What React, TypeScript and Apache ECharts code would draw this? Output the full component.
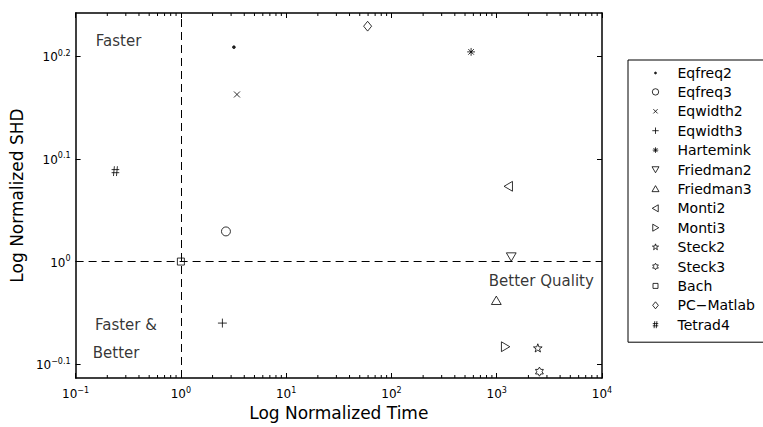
import React, { useEffect, useRef } from 'react';
import * as echarts from 'echarts';

const methods = ['Eqfreq2', 'Eqfreq3', 'Eqwidth2', 'Eqwidth3', 'Hartemink', 'Friedman2', 'Friedman3', 'Monti2', 'Monti3', 'Steck2', 'Steck3', 'Bach', 'PC−Matlab', 'Tetrad4'];
const timeValues = [3.19, 2.68, 3.41, 2.48, 571, 1374, 991, 1297, 1206, 2456, 2545, 1, 59.4, 0.239];
const shdValues = [1.618, 1.07, 1.455, 0.871, 1.601, 1.011, 0.916, 1.184, 0.826, 0.823, 0.781, 1, 1.696, 1.225];

const xRange = [0.1, 10000];
const yRange = [0.770, 1.747];
const yTickExponents = [-0.1, 0, 0.1, 0.2];
const xMinorDecades = [0.1, 1, 10, 100, 1000];
const xMinorMultipliers = [2, 3, 4, 5, 6, 7, 8, 9];

const annotationTexts = ['Faster', 'Faster &', 'Better', 'Better Quality'];
const annotationTime = [0.154, 0.151, 0.144, 832];
const annotationShd = [1.642, 0.868, 0.815, 0.958];

const FONT = 'DejaVu Sans';

function starPath(n: number, R: number, r: number) {
  let d = '';
  for (let k = 0; k < 2 * n; k++) {
    const ang = ((-90 + (k * 180) / n) * Math.PI) / 180;
    const rad = k % 2 ? r : R;
    d += (k ? 'L' : 'M') + (10 + rad * Math.cos(ang)).toFixed(2) + ' ' + (10 + rad * Math.sin(ang)).toFixed(2);
  }
  return d + 'Z';
}

const F = 'M0 0M20 20';
const markerPaths = [
  F + 'M11.9 10A1.9 1.9 0 1 1 8.1 10A1.9 1.9 0 1 1 11.9 10Z',
  F + 'M16.4 10A6.4 6.4 0 1 1 3.6 10A6.4 6.4 0 1 1 16.4 10Z',
  F + 'M5.7 5.7L14.3 14.3M14.3 5.7L5.7 14.3',
  F + 'M10 3.6L10 16.4M3.6 10L16.4 10',
  F + 'M10 4.4L10 15.6M4.4 10L15.6 10M6 6L14 14M14 6L6 14',
  F + 'M3 4.5L17 4.5L10 16.5Z',
  F + 'M10 3.5L17 15.5L3 15.5Z',
  F + 'M3.5 10L15.5 3L15.5 17Z',
  F + 'M4.5 3L16.5 10L4.5 17Z',
  F + starPath(5, 6.5, 2.6),
  F + starPath(6, 6.5, 3.75),
  F + 'M5 5L15 5L15 15L5 15Z',
  F + 'M10 3L15.7 10L10 17L4.3 10Z',
  F + 'M8.5 3L7.2 17M12.8 3L11.5 17M4.5 7.8L15.5 7.8M4.5 12.2L15.5 12.2',
];

const fmtExp = (e: number) => (e < 0 ? '−' : '') + String(Math.abs(e));

const rich = {
  b: { fontSize: 12, lineHeight: 14, fontFamily: FONT, color: '#000', verticalAlign: 'bottom' },
  s: { fontSize: 8, lineHeight: 8, fontFamily: FONT, color: '#000', verticalAlign: 'top' },
};

const yLogMin = Math.log10(yRange[0]);
const yLogMax = Math.log10(yRange[1]);

function buildOption() {
  const axisLine = { show: true, onZero: false, lineStyle: { color: '#000', width: 1.5 } };
  const markerSeries = methods.map((m, i) => ({
    type: 'scatter',
    name: m,
    data: [[timeValues[i], Math.log10(shdValues[i])]],
    symbol: 'path://' + markerPaths[i],
    symbolSize: 14,
    itemStyle: { color: i === 0 ? '#000' : 'none', borderColor: '#000', borderWidth: 1 },
    emphasis: { disabled: true },
    silent: true,
    z: 4,
  }));

  const minorData: number[][] = [];
  xMinorDecades.forEach((d) => xMinorMultipliers.forEach((m) => minorData.push([d * m, yLogMin])));

  return {
    animation: false,
    backgroundColor: '#fff',
    textStyle: { fontFamily: FONT, color: '#000' },
    grid: { left: 73, right: 161, top: 13, bottom: 49, containLabel: false },
    legend: {
      orient: 'vertical',
      left: 628,
      top: 60,
      padding: [6, 5, 10, 20],
      itemWidth: 10,
      itemHeight: 10,
      itemGap: 4.4,
      borderColor: '#000',
      borderWidth: 1,
      backgroundColor: '#fff',
      selectedMode: false,
      itemStyle: { borderWidth: 1 },
      textStyle: { fontSize: 14, lineHeight: 14, color: '#000', fontFamily: FONT, width: 83, padding: [0, 0, 0, 12] },
      data: methods,
    },
    xAxis: [
      {
        type: 'log',
        logBase: 10,
        min: xRange[0],
        max: xRange[1],
        splitNumber: 5,
        position: 'bottom',
        axisLine,
        axisTick: { show: true, inside: true, length: 5, lineStyle: { color: '#000', width: 1 } },
        axisLabel: {
          margin: 8,
          formatter: (v: number) => `{b|10}{s|${fmtExp(Math.round(Math.log10(v)))}}`,
          rich,
        },
        splitLine: { show: false },
        name: 'Log Normalized Time',
        nameLocation: 'middle',
        nameGap: 25,
        nameTextStyle: { fontSize: 17, color: '#000', fontFamily: FONT },
      },
      {
        type: 'log',
        logBase: 10,
        min: xRange[0],
        max: xRange[1],
        splitNumber: 5,
        position: 'top',
        axisLine,
        axisTick: { show: true, inside: true, length: 5, lineStyle: { color: '#000', width: 1 } },
        axisLabel: { show: false },
        splitLine: { show: false },
      },
    ],
    yAxis: [
      {
        type: 'value',
        min: yLogMin,
        max: yLogMax,
        position: 'left',
        axisLine,
        axisTick: { show: true, inside: true, length: 5, customValues: yTickExponents, lineStyle: { color: '#000', width: 1 } },
        axisLabel: {
          margin: 5,
          customValues: yTickExponents,
          formatter: (v: number) => `{b|10}{s|${fmtExp(Math.round(v * 10) / 10)}}`,
          rich,
        },
        splitLine: { show: false },
        name: 'Log Normalized SHD',
        nameLocation: 'middle',
        nameGap: 37,
        nameTextStyle: { fontSize: 17, color: '#000', fontFamily: FONT },
      },
      {
        type: 'value',
        min: yLogMin,
        max: yLogMax,
        position: 'right',
        axisLine,
        axisTick: { show: true, inside: true, length: 5, customValues: yTickExponents, lineStyle: { color: '#000', width: 1 } },
        axisLabel: { show: false },
        splitLine: { show: false },
      },
    ],
    series: [
      {
        type: 'scatter',
        name: 'guides',
        data: [],
        silent: true,
        markLine: {
          silent: true,
          symbol: ['none', 'none'],
          label: { show: false },
          lineStyle: { color: '#000', width: 1, type: [8, 5] },
          emphasis: { disabled: true },
          data: [{ xAxis: 1 }, { yAxis: 0 }],
        },
        z: 2,
      },
      {
        type: 'custom',
        name: 'minorTicks',
        data: minorData,
        encode: { x: 0, y: 1 },
        clip: false,
        silent: true,
        renderItem: (params: any, api: any) => {
          const x = api.value(0);
          const b = api.coord([x, yLogMin]);
          const t = api.coord([x, yLogMax]);
          const style = { stroke: '#000', lineWidth: 1 };
          return {
            type: 'group',
            children: [
              { type: 'line', shape: { x1: b[0], y1: b[1], x2: b[0], y2: b[1] - 3 }, style },
              { type: 'line', shape: { x1: t[0], y1: t[1], x2: t[0], y2: t[1] + 3 }, style },
            ],
          };
        },
      },
      {
        type: 'scatter',
        name: 'annotations',
        data: annotationTexts.map((t, i) => ({ name: t, value: [annotationTime[i], Math.log10(annotationShd[i])] })),
        symbolSize: 1,
        itemStyle: { color: 'transparent' },
        silent: true,
        emphasis: { disabled: true },
        label: { show: true, position: 'right', distance: 0, formatter: '{b}', fontSize: 15, color: '#000', fontFamily: FONT },
      },
      ...markerSeries,
    ],
  };
}

export default function App() {
  const ref = useRef<HTMLDivElement>(null);
  useEffect(() => {
    const chart = echarts.init(ref.current!, null, { renderer: 'svg' });
    chart.setOption(buildOption() as any);
    return () => chart.dispose();
  }, []);
  return <div ref={ref} style={{ position: 'fixed', left: 0, top: 0, width: 763, height: 427, background: '#fff' }} />;
}
